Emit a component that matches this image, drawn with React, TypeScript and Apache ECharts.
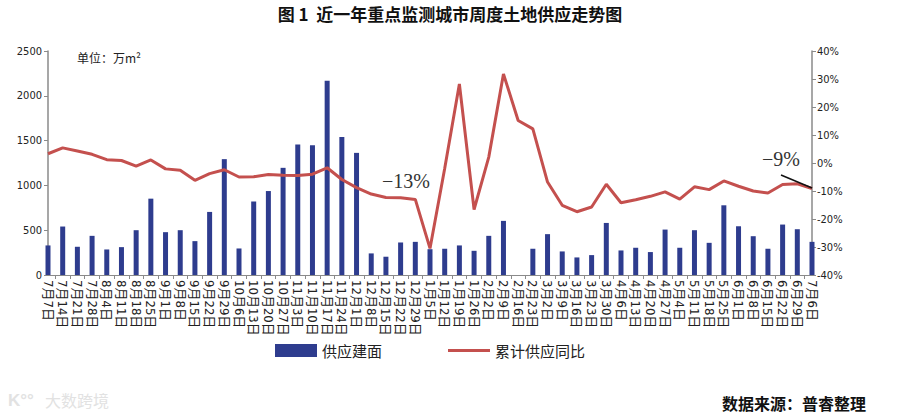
import React, { useEffect, useRef } from "react";
import * as echarts from "echarts";

const categories = [
  "7月7日", "7月14日", "7月21日", "7月28日", "8月4日", "8月11日", "8月18日", "8月25日",
  "9月1日", "9月8日", "9月15日", "9月22日", "9月29日", "10月6日", "10月13日", "10月20日",
  "10月27日", "11月3日", "11月10日", "11月17日", "11月24日", "12月1日", "12月8日", "12月15日",
  "12月22日", "12月29日", "1月5日", "1月12日", "1月19日", "1月26日", "2月2日", "2月9日",
  "2月16日", "2月23日", "3月2日", "3月9日", "3月16日", "3月23日", "3月30日", "4月6日",
  "4月13日", "4月20日", "4月27日", "5月4日", "5月11日", "5月18日", "5月25日", "6月1日",
  "6月8日", "6月15日", "6月22日", "6月29日", "7月6日",
];

// 供应建面 (万m²)
const supplyArea = [
  330, 541, 315, 437, 285, 311, 500, 852, 478, 500, 378, 704, 1293, 296, 819, 937,
  1196, 1456, 1448, 2167, 1541, 1363, 241, 204, 363, 370, 288, 293, 330, 270, 437, 604,
  0, 293, 456, 263, 196, 222, 581, 274, 304, 256, 507, 304, 500, 359, 778, 544,
  433, 293, 563, 511, 370,
];

// 累计供应同比 (%)
const cumulativeYoY = [
  3.3, 5.4, 4.3, 3.1, 1.2, 0.9, -1.1, 1.1, -2.1, -2.6, -6.2, -3.8, -2.4, -5.0, -4.9, -4.1,
  -4.4, -4.5, -4.0, -1.7, -5.9, -8.8, -11.1, -12.3, -12.4, -13.0, -30.5, -2.0, 28.2, -16.6, 2.1, 31.8,
  15.2, 12.2, -6.8, -15.1, -17.4, -15.7, -7.6, -14.2, -13.1, -11.9, -10.3, -12.9, -8.5, -9.5, -6.4, -8.3,
  -10.0, -10.7, -7.7, -7.4, -9.1,
];

const leftTicks = { min: 0, max: 2500, interval: 500 };
const rightTicks = { min: -40, max: 40, interval: 10 };

const NARROW = "'Liberation Sans Narrow', 'DejaVu Sans Condensed', 'Noto Sans CJK SC', sans-serif";
const CJK = "'Noto Sans CJK SC', sans-serif";

export default function App() {
  const ref = useRef<HTMLDivElement>(null);

  useEffect(() => {
    if (!ref.current) return;
    const chart = echarts.init(ref.current, null, { renderer: "svg" });
    const gridLeft = 48;
    const gridRight = 88;
    const plotW = 900 - gridLeft - gridRight;
    const step = plotW / (categories.length - 1);
    const axisColor = "#8a8a8a";

    chart.setOption({
      animation: false,
      backgroundColor: "#ffffff",
      grid: [
        { left: gridLeft, right: gridRight, top: 51, bottom: 142, containLabel: false },
        { left: gridLeft + step / 2, right: gridRight + step / 2, top: 51, bottom: 142, containLabel: false },
      ],
      legend: {
        left: 270,
        top: 338,
        itemWidth: 42,
        itemHeight: 13,
        itemGap: 66,
        textStyle: { fontFamily: CJK, fontSize: 15, color: "#222" },
        data: [
          { name: "供应建面", icon: "rect" },
          { name: "累计供应同比", icon: "path://M0,0H42V3H0Z" },
        ],
      },
      xAxis: [
        {
          type: "category",
          gridIndex: 0,
          data: categories,
          boundaryGap: false,
          axisLine: { show: true, lineStyle: { color: axisColor, width: 1 } },
          axisTick: { show: false },
          axisLabel: {
            interval: 0,
            rotate: -90,
            margin: 5,
            fontSize: 13,
            color: "#222",
            fontFamily: NARROW,
          },
        },
        {
          type: "category",
          gridIndex: 1,
          data: categories.slice(1).map(() => ""),
          boundaryGap: false,
          axisLine: { show: false },
          axisTick: { show: true, length: 4, interval: 0, lineStyle: { color: axisColor } },
          axisLabel: { show: false },
        },
      ],
      yAxis: [
        {
          type: "value",
          gridIndex: 0,
          min: leftTicks.min,
          max: leftTicks.max,
          interval: leftTicks.interval,
          splitLine: { show: false },
          axisLine: { show: true, lineStyle: { color: axisColor, width: 1.5 } },
          axisTick: { show: true, length: 4, lineStyle: { color: axisColor } },
          axisLabel: {
            fontSize: 11,
            color: "#222",
            fontFamily: NARROW,
            margin: 6,
            formatter: (v: number) => String(v),
          },
        },
        {
          type: "value",
          gridIndex: 0,
          position: "right",
          min: rightTicks.min,
          max: rightTicks.max,
          interval: rightTicks.interval,
          splitLine: { show: false },
          axisLine: { show: true, lineStyle: { color: axisColor, width: 1.5 } },
          axisTick: { show: true, length: 4, lineStyle: { color: axisColor } },
          axisLabel: { fontSize: 11, color: "#222", fontFamily: NARROW, margin: 5, formatter: "{value}%" },
        },
        { type: "value", gridIndex: 1, show: false },
      ],
      series: [
        {
          name: "供应建面",
          type: "bar",
          xAxisIndex: 0,
          yAxisIndex: 0,
          data: supplyArea,
          barWidth: 5,
          itemStyle: { color: "#2E3C8E" },
        },
        {
          name: "累计供应同比",
          type: "line",
          xAxisIndex: 0,
          yAxisIndex: 1,
          data: cumulativeYoY,
          symbol: "none",
          lineStyle: { color: "#C4504E", width: 3 },
          itemStyle: { color: "#C4504E" },
          z: 3,
        },
      ],
      graphic: [
        {
          type: "text",
          left: "center",
          top: 5,
          style: {
            text: "图 1  近一年重点监测城市周度土地供应走势图",
            font: "bold 17px 'Noto Sans CJK SC', sans-serif",
            fill: "#111",
          },
        },
        {
          type: "text",
          x: 77,
          y: 57,
          style: {
            text: "单位：万m²",
            font: "12px 'Noto Sans CJK SC', sans-serif",
            fill: "#222",
            verticalAlign: "middle",
          },
        },
        {
          type: "text",
          x: 382,
          y: 181,
          style: {
            text: "−13%",
            font: "20px 'Liberation Serif', 'DejaVu Serif', serif",
            fill: "#333",
            verticalAlign: "middle",
          },
        },
        {
          type: "text",
          x: 762,
          y: 159,
          style: {
            text: "−9%",
            font: "20px 'Liberation Serif', 'DejaVu Serif', serif",
            fill: "#333",
            verticalAlign: "middle",
          },
        },
        {
          type: "line",
          shape: { x1: 781, y1: 175, x2: 812, y2: 188 },
          style: { stroke: "#111", lineWidth: 1.5 },
          z: 10,
        },
        {
          type: "text",
          x: 722,
          y: 403,
          style: {
            text: "数据来源：普睿整理",
            font: "bold 16px 'Noto Sans CJK SC', sans-serif",
            fill: "#111",
            verticalAlign: "middle",
          },
        },
        {
          type: "text",
          x: 8,
          y: 400,
          style: { text: "K°°", font: "bold 17px sans-serif", fill: "#e2e2e2", verticalAlign: "middle" },
        },
        {
          type: "text",
          x: 45,
          y: 400,
          style: {
            text: "大数跨境",
            font: "16px 'Noto Sans CJK SC', sans-serif",
            fill: "#e2e2e2",
            verticalAlign: "middle",
          },
        },
      ],
    });

    return () => chart.dispose();
  }, []);

  return (
    <div
      ref={ref}
      style={{ position: "fixed", left: 0, top: 0, width: 900, height: 417, background: "#fff" }}
    />
  );
}
